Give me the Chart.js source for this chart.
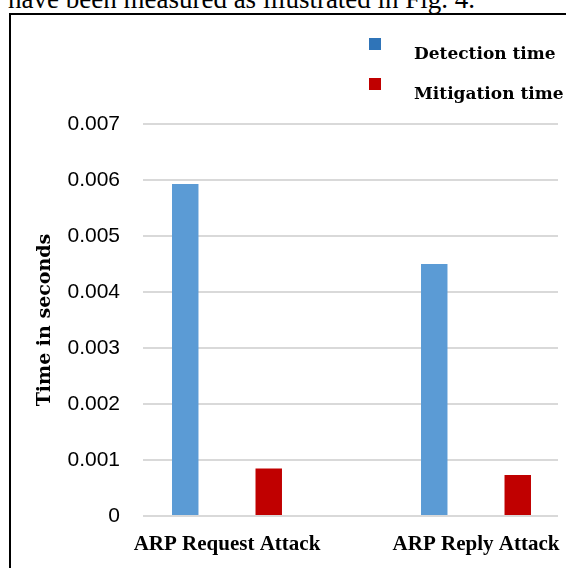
<!DOCTYPE html>
<html>
<head>
<meta charset="utf-8">
<script src="https://cdn.jsdelivr.net/npm/chart.js@4"></script>
<style>
  html, body { margin: 0; padding: 0; background: #fff; width: 566px; height: 568px; overflow: hidden; }
  #caption { position: absolute; left: 8px; top: -14px; font: 27px 'Liberation Serif', 'Times New Roman', serif; line-height: 27px; white-space: nowrap; color: #000; }
  #frame { position: absolute; left: 9px; top: 13px; width: 700px; height: 700px; border: 2px solid #000; box-sizing: border-box; }
  #wrap { position: absolute; left: 0; top: 0; width: 566px; height: 568px; }
</style>
</head>
<body>
<div id="caption">have been measured as illustrated in Fig. 4.</div>
<div id="frame"></div>
<div id="wrap"><canvas id="c" width="566" height="568"></canvas></div>
<script>
// ---- data ----
const categories = ['ARP Request Attack', 'ARP Reply Attack'];
const seriesNames = ['Detection time', 'Mitigation time'];
const detectionTime = [0.00593, 0.0045];
const mitigationTime = [0.00085, 0.00073];
const yTicks = [0, 0.001, 0.002, 0.003, 0.004, 0.005, 0.006, 0.007];
const yTitle = 'Time in seconds';

const barColors = ['#5b9bd5', '#c00000'];
const legendColors = ['#2f74b8', '#c00000'];

const toPoints = arr => arr.map((v, i) => ({ x: i, y: v }));

const legendPlugin = {
  id: 'customLegend',
  afterDraw(chart) {
    const ctx = chart.ctx;
    ctx.save();
    ctx.font = 'bold 17px "DejaVu Serif", serif';
    ctx.textBaseline = 'alphabetic';
    ctx.textAlign = 'left';
    chart.data.datasets.forEach((ds, i) => {
      const by = 38 + i * 40;
      ctx.fillStyle = legendColors[i];
      ctx.fillRect(369, by, 12, 12);
      ctx.fillStyle = '#000';
      ctx.fillText(ds.label, 414, by + 21);
    });
    ctx.restore();
  }
};

new Chart(document.getElementById('c'), {
  type: 'bar',
  data: {
    datasets: [
      { label: seriesNames[0], data: toPoints(detectionTime), backgroundColor: barColors[0] },
      { label: seriesNames[1], data: toPoints(mitigationTime), backgroundColor: barColors[1] }
    ]
  },
  options: {
    responsive: false,
    animation: false,
    devicePixelRatio: 1,
    layout: { padding: { left: 0, right: 8, top: 124, bottom: 0 } },
    datasets: { bar: { categoryPercentage: 0.6707, barPercentage: 0.317 } },
    plugins: { legend: { display: false }, tooltip: { enabled: false } },
    scales: {
      x: {
        type: 'linear',
        offset: false,
        min: -0.3373,
        max: 1.3293,
        grid: { display: false, drawTicks: false, offset: false },
        border: { display: false },
        afterBuildTicks(scale) { scale.ticks = categories.map((c, i) => ({ value: i })); },
        afterFit(scale) { scale.height = 52; scale.paddingLeft = 0; scale.paddingRight = 0; },
        ticks: {
          callback: v => categories[v],
          maxRotation: 0,
          autoSkip: false,
          padding: 16,
          color: '#000',
          font: { family: "'Liberation Serif', serif", size: 21, weight: 'bold' }
        }
      },
      y: {
        min: 0,
        max: 0.007,
        afterBuildTicks(scale) { scale.ticks = yTicks.map(v => ({ value: v })); },
        afterFit(scale) { scale.width = 143; },
        grid: { color: '#d9d9d9', lineWidth: 2, drawTicks: false },
        border: { display: false },
        ticks: {
          callback: v => (v === 0 ? '0' : v.toFixed(3)),
          padding: 23,
          color: '#000',
          font: { family: "'Liberation Sans', Arial, sans-serif", size: 21 }
        },
        title: {
          display: true,
          text: yTitle,
          color: '#000',
          padding: { top: 34, bottom: 0 },
          font: { family: "'DejaVu Serif', serif", size: 19, weight: 'bold' }
        }
      }
    }
  },
  plugins: [legendPlugin]
});
</script>
</body>
</html>
